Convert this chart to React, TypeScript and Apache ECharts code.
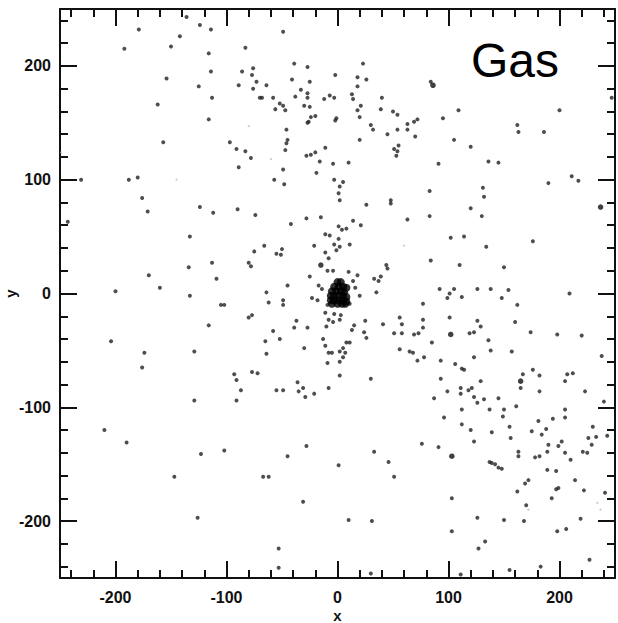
import React, { useEffect, useRef } from "react";
import * as echarts from "echarts";

// Axis tick labels shown on the plot
const tickLabels = [-200, -100, 0, 100, 200];
const axisMin = -250;
const axisMax = 250;
const titleText = "Gas";

// Gas particles, upper-left part (x, y)
const upperLeftDots: [number, number][] = [
  [-179, 232], [-192, 215], [-142, 226], [-150, 217], [-136, 243], [-124, 236], [-114, 232], [-116, 211],
  [-114, 195], [-125, 182], [-113, 172], [-154, 189], [-162, 166], [-116, 153], [-157, 133], [-83, 216],
  [-86, 195], [-89, 183], [-76, 198], [-77, 192], [-76, 180], [-73, 186], [-64, 183], [-70, 172],
  [-68, 172], [-58, 172], [-56, 162], [-52, 167], [-49, 165], [-47, 161], [-49, 230], [-39, 202],
  [-41, 188], [-38, 173], [-33, 179], [-30, 165], [-27, 199], [-27, 176], [-27, 172], [-27, 150],
  [-46, 144], [-45, 135], [-46, 132], [-47, 126], [-97, 133], [-91, 127], [-83, 125], [-78, 119],
  [-89, 111], [-49, 109], [-57, 100], [-48, 96], [-28, 121], [-231, 100], [-188, 100], [-180, 102],
  [-176, 84], [-171, 72], [-124, 76], [-112, 71], [-90, 74], [-74, 69], [-42, 61], [-28, 66],
  [-243, 63], [-133, 50], [-75, 37], [-66, 42], [-55, 35], [-51, 34], [-50, 39], [-80, 27],
  [-78, 24], [-113, 27], [-134, 23], [-109, 13], [-170, 16], [-200, 2], [-160, 5], [-133, -2],
  [-64, 1], [-62, -8], [-49, -6], [-49, -10], [-45, 7], [-105, -10], [-102, -10],
];

// Gas particles, upper-right part
const upperRightDots: [number, number][] = [
  [23, 202], [-25, 186], [-2, 192], [18, 190], [26, 188], [18, 182], [-12, 171], [-7, 174],
  [-3, 172], [13, 175], [14, 171], [40, 172], [-25, 164], [18, 161], [21, 165], [20, 155],
  [-24, 155], [-20, 156], [-26, 151], [-1, 154], [-2, 152], [39, 162], [50, 160], [54, 157],
  [30, 148], [32, 144], [45, 140], [54, 144], [63, 144], [63, 149], [69, 151], [72, 153],
  [70, 138], [20, 135], [-11, 128], [-20, 124], [-24, 122], [-16, 116], [-4, 114], [10, 115],
  [-19, 106], [51, 127], [53, 121], [55, 130], [54, 125], [84, 186], [95, 154], [109, 161],
  [105, 135], [120, 129], [91, 114], [136, 116], [145, 115], [162, 148], [163, 142], [186, 142],
  [200, 161], [247, 172], [190, 97], [211, 103], [217, 99], [-3, 100], [2, 94], [5, 98],
  [1, 88], [2, 82], [26, 78], [48, 82], [48, 79], [83, 90], [131, 93], [132, 85],
  [120, 75], [130, 68], [63, 65], [83, 68], [-15, 67], [14, 64], [21, 60], [1, 59],
  [4, 56], [8, 57], [-11, 52], [-7, 51], [1, 48], [-3, 43], [11, 43], [2, 41],
  [-1, 38], [-21, 42], [-11, 36], [-8, 31], [-9, 20], [-4, 20], [10, 19], [18, 16],
  [-25, 15], [33, 13], [37, 11], [39, 15], [44, 25], [45, 22], [-17, 7], [-14, 4],
  [14, 11], [16, 5], [20, -2], [11, -9], [35, 1], [-23, -4], [-18, -6], [-9, -10],
  [77, -9], [102, 49], [114, 50], [134, 41], [176, 46], [110, 25], [150, 23], [84, 29],
  [92, 4], [101, 0], [105, 4], [112, -3], [126, 4], [138, 4], [148, -4], [154, 3],
  [209, 0], [162, -10], [99, -4],
];

// Gas particles, lower-left part
const lowerLeftDots: [number, number][] = [
  [-116, -28], [-80, -21], [-77, -19], [-204, -42], [-174, -52], [-176, -65], [-129, -51], [-65, -42],
  [-58, -33], [-52, -40], [-64, -53], [-39, -30], [-37, -24], [-30, -48], [-27, -30], [-77, -69],
  [-72, -70], [-93, -71], [-91, -76], [-87, -85], [-91, -94], [-129, -94], [-55, -85], [-49, -85],
  [-36, -78], [-35, -86], [-31, -83], [-29, -91], [-210, -120], [-190, -131], [-123, -141], [-102, -138],
  [-147, -161], [-67, -161], [-62, -161], [-45, -143], [-28, -134], [-31, -183], [-126, -197], [-53, -224],
  [-53, -241],
];

// Gas particles, lower-right part
const lowerRightDots: [number, number][] = [
  [-11, -17], [-3, -18], [3, -19], [-8, -23], [-4, -25], [2, -23], [-10, -29], [15, -28],
  [13, -32], [25, -24], [24, -34], [26, -39], [41, -27], [56, -21], [58, -27], [51, -35],
  [58, -35], [69, -36], [77, -23], [77, -30], [73, -35], [85, -43], [101, -21], [119, -35],
  [123, -34], [126, -24], [129, -29], [136, -41], [-13, -40], [-11, -46], [-8, -52], [-5, -52],
  [-9, -61], [2, -51], [8, -43], [11, -43], [5, -48], [7, -52], [5, -56], [2, -60],
  [2, -72], [-8, -83], [-21, -88], [30, -75], [56, -49], [65, -51], [68, -52], [72, -59],
  [78, -56], [93, -59], [93, -75], [87, -92], [96, -109], [99, -86], [106, -62], [112, -66],
  [114, -67], [123, -56], [111, -83], [111, -88], [118, -85], [121, -83], [123, -91], [126, -96],
  [132, -93], [129, -77], [138, -50], [145, -92], [137, -102], [112, -102], [112, -115], [120, -120],
  [123, -130], [139, -122], [149, -108], [150, -102], [155, -117], [156, -127], [160, -25], [174, -34],
  [157, -51], [167, -71], [165, -83], [161, -99], [176, -67], [182, -72], [182, -86], [198, -36],
  [220, -37], [212, -70], [205, -77], [207, -71], [238, -55], [223, -86], [240, -95], [205, -102],
  [205, -109], [194, -110], [181, -112], [175, -121], [184, -124], [188, -119], [190, -133], [189, -139],
  [199, -134], [202, -130], [205, -140], [210, -146], [230, -117], [226, -127], [233, -126], [229, -133],
  [221, -139], [225, -140], [243, -125], [163, -139], [163, -143], [178, -144], [182, -143], [189, -155],
  [197, -156], [214, -164], [222, -173], [241, -175], [169, -167], [172, -164], [162, -174], [170, -186],
  [193, -180], [197, -172], [199, -171], [33, -139], [46, -148], [51, -161], [1, -151], [91, -135],
  [76, -132], [103, -180], [10, -199], [31, -200], [103, -209], [126, -197], [127, -224], [133, -218],
  [150, -199], [168, -200], [198, -209], [206, -207], [219, -198], [227, -234], [183, -240], [155, -243],
  [111, -247], [30, -246], [137, -148], [139, -149], [142, -150], [145, -153], [148, -154],
];

// Slightly heavier clumps
const heavyDots: [number, number][] = [
  [86, 183], [-15, 25], [165, -77], [102, -36], [103, -143], [237, 76],
];

// Dense core at the centre
const coreDots: [number, number][] = [
  [0, 10], [3, 10], [-3, 6], [1, 6], [5, 6], [8, 5],
  [-5, 2], [-1, 2], [3, 2], [6, 1],
  [-6, -2], [-3, -2], [1, -2], [5, -2], [8, -3],
  [-6, -6], [-3, -6], [1, -6], [5, -6], [8, -7],
  [-5, -9], [0, -9], [4, -9], [7, -9],
];

// Faint specks
const faintDots: [number, number][] = [
  [-249, 124], [-145, 100], [-80, 147], [172, -190], [234, -184], [237, -190], [-60, 118], [60, 42],
];

const FONT = "'Liberation Sans', Arial, Helvetica, sans-serif";

function makeAxis(kind: "x" | "y", position: string, withLabels: boolean, name?: string) {
  return {
    type: "value",
    position,
    min: axisMin,
    max: axisMax,
    name: name,
    nameLocation: "middle",
    nameGap: kind === "x" ? 30 : 42,
    nameRotate: kind === "y" ? 90 : 0,
    nameMoveOverlap: false,
    nameTextStyle: { color: "#111", fontFamily: FONT, fontWeight: "bold", fontSize: 15 },
    axisLine: { show: true, onZero: false, lineStyle: { color: "#111", width: 2 } },
    axisTick: { show: true, inside: true, length: 17, lineStyle: { color: "#111", width: 2 } },
    minorTick: { show: true, splitNumber: 5, length: 8, lineStyle: { color: "#111", width: 2 } },
    axisLabel: {
      show: withLabels,
      showMinLabel: false,
      showMaxLabel: false,
      margin: kind === "x" ? 11 : 9,
      color: "#111",
      fontFamily: FONT,
      fontWeight: "bold",
      fontSize: 16,
      formatter: (v: number) => (tickLabels.indexOf(v) >= 0 ? String(v) : ""),
    },
    splitLine: { show: false },
    minorSplitLine: { show: false },
  };
}

function dotSeries(data: [number, number][], size: number, color: string) {
  return {
    type: "scatter",
    xAxisIndex: 0,
    yAxisIndex: 0,
    data,
    symbol: "circle",
    symbolSize: size,
    itemStyle: { color },
    silent: true,
  };
}

export default function App() {
  const ref = useRef<HTMLDivElement>(null);
  useEffect(() => {
    if (!ref.current) return;
    const chart = echarts.init(ref.current, undefined, { renderer: "svg" });
    chart.setOption({
      animation: false,
      backgroundColor: "#ffffff",
      grid: { left: 60, right: 3, top: 9, bottom: 45, containLabel: false, outerBoundsMode: "none" },
      xAxis: [makeAxis("x", "bottom", true, "x"), makeAxis("x", "top", false)],
      yAxis: [makeAxis("y", "left", true, "y"), makeAxis("y", "right", false)],
      graphic: [
        {
          type: "text",
          left: 471,
          top: 36,
          style: { text: titleText, fontFamily: FONT, fontSize: 48, fill: "#000" },
        },
      ],
      series: [
        dotSeries(faintDots, 2, "#bbbbbb"),
        dotSeries(upperLeftDots, 4, "#222222"),
        dotSeries(upperRightDots, 4, "#222222"),
        dotSeries(lowerLeftDots, 4, "#222222"),
        dotSeries(lowerRightDots, 4, "#222222"),
        dotSeries(heavyDots, 5.5, "#111111"),
        dotSeries(coreDots, 8, "#000000"),
      ],
    });
    return () => chart.dispose();
  }, []);
  return (
    <div
      ref={ref}
      style={{ position: "fixed", left: 0, top: 0, width: 618, height: 623, background: "#fff" }}
    />
  );
}
